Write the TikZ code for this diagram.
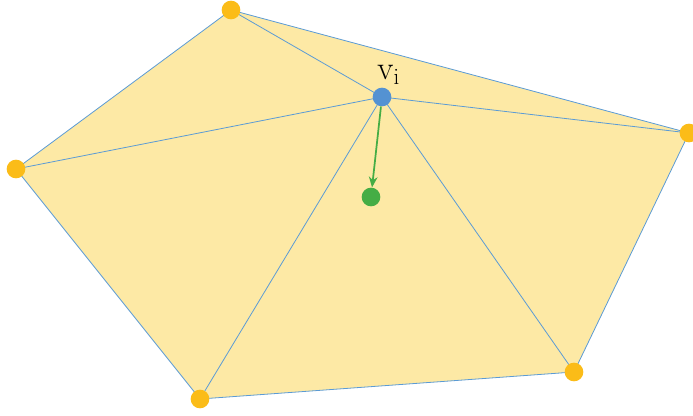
\documentclass[tikz,border=0pt]{standalone}
\usepackage{tikz}
\usetikzlibrary{arrows.meta, positioning}
\definecolor{meshfill}{RGB}{253,233,165}
\definecolor{meshedge}{RGB}{91,155,213}
\definecolor{vorange}{RGB}{251,188,24}
\definecolor{vblue}{RGB}{84,146,210}
\definecolor{vgreen}{RGB}{69,173,69}

\begin{document}
\begin{tikzpicture}[
        x=0.75pt, y=-0.75pt,
        vtx/.style={circle, fill=vorange, inner sep=0pt, minimum size=14pt},
        center/.style={circle, fill=vblue, inner sep=0pt, minimum size=14pt},
        target/.style={circle, fill=vgreen, inner sep=0pt, minimum size=14pt},
        edge/.style={draw=meshedge, line width=0.6pt},
        arrow/.style={-{Stealth[length=8pt, width=6.5pt]}, draw=vgreen, line width=1.3pt}
    ]
        \useasboundingbox (0,0) rectangle (693,416);

        % outer vertices
        \coordinate (top) at (231,10);
        \coordinate (right) at (689,133);
        \coordinate (botright) at (574,372);
        \coordinate (bot) at (200,399);
        \coordinate (left) at (16,169);
        \coordinate (vi) at (382,97);

        \fill[meshfill] (top) -- (right) -- (botright) -- (bot) -- (left) -- cycle;
        \draw[edge] (top) -- (right) -- (botright) -- (bot) -- (left) -- cycle;
        \foreach \p in {top, right, botright, bot, left}
            \draw[edge] (vi) -- (\p);

        \node[vtx] (ntop) at (top) {};
        \node[vtx] (nright) at (right) {};
        \node[vtx] (nbotright) at (botright) {};
        \node[vtx] (nbot) at (bot) {};
        \node[vtx] (nleft) at (left) {};
        \node[center] (nvi) at (vi) {};
        \node[target] (goal) at (371,197) {};
        \node[above=-1pt of nvi, xshift=5pt, font=\fontsize{23}{25}\selectfont] (label) {$\mathrm{v}_{\mathrm{i}}$};

        \draw[arrow] (nvi) -- (goal);
    \end{tikzpicture}
\end{document}
